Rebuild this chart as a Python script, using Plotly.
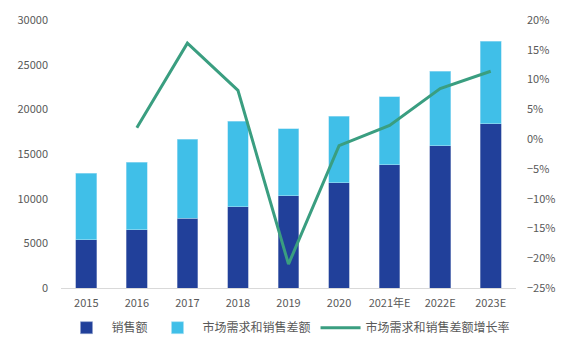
import plotly.graph_objects as go

years = ["2015", "2016", "2017", "2018", "2019", "2020", "2021年E", "2022E", "2023E"]
sales = [5400, 6500, 7800, 9100, 10300, 11800, 13800, 15900, 18400]
totals = [12850, 14100, 16650, 18680, 17850, 19230, 21400, 24250, 27600]
gap = [t - s for t, s in zip(totals, sales)]
growth_years = years[1:]
growth = [1.9, 16.1, 8.2, -21.0, -1.1, 2.3, 8.5, 11.4]

c_dark = "#21409A"
c_light = "#40BFE8"
c_line = "#3A9E80"
txt = "#595959"
font_fam = "Noto Sans CJK SC, Noto Sans, sans-serif"

fig = go.Figure()
fig.add_trace(go.Bar(x=years, y=sales, name="销售额", marker=dict(color=c_dark, line=dict(color="#8FA0CC", width=0.6))))
fig.add_trace(go.Bar(x=years, y=gap, name="市场需求和销售差额", marker=dict(color=c_light, line=dict(color="#A8E0F4", width=0.6))))
fig.add_trace(go.Scatter(x=growth_years, y=growth, name="市场需求和销售差额增长率", mode="lines",
                         line=dict(color=c_line, width=3), yaxis="y2"))

fig.update_layout(
    width=582, height=353,
    margin=dict(l=61, r=66, t=20, b=65, autoexpand=False),
    barmode="stack", bargap=0.59,
    paper_bgcolor="white", plot_bgcolor="white",
    font=dict(family=font_fam, size=11, color=txt),
    showlegend=True,
    legend=dict(orientation="h", x=0.5, xanchor="center", y=-0.148, yanchor="middle",
                font=dict(size=12, color=txt), traceorder="normal", itemwidth=40),
    xaxis=dict(showline=True, linecolor="#D9D9D9", linewidth=1, ticks="", showgrid=False,
               tickfont=dict(size=11, color=txt), ticklabelstandoff=5),
    yaxis=dict(range=[0, 30000], dtick=5000, tickformat="d", showgrid=False, zeroline=False, ticks="",
               tickfont=dict(size=11, color=txt), ticklabelstandoff=12),
    yaxis2=dict(range=[-25, 20], dtick=5, overlaying="y", side="right", showgrid=False,
                zeroline=False, ticksuffix="%", tickfont=dict(size=11, color=txt),
                ticklabelstandoff=10),
)

fig.write_html("out.html")
